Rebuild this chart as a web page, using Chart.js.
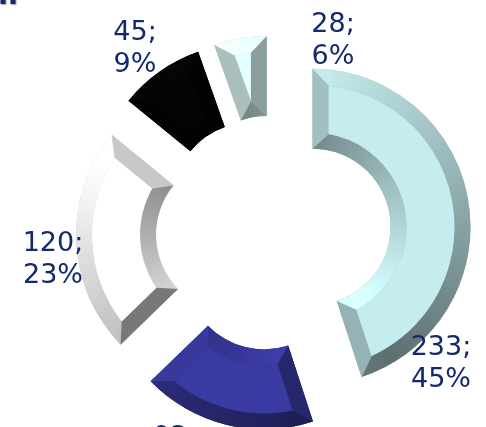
<!DOCTYPE html>
<html>
<head>
<meta charset="utf-8">
<style>
  html, body { margin: 0; padding: 0; background: #fff; overflow: hidden; }
  #wrap { position: relative; width: 486px; height: 427px; overflow: hidden; }
</style>
<script src="https://cdn.jsdelivr.net/npm/chart.js@4/dist/chart.umd.min.js"></script>
</head>
<body>
<div id="wrap"><canvas id="chart" width="486" height="427"></canvas></div>
<script>
// ── Data ──────────────────────────────────────────────────────────────────────

const values = [233, 92, 120, 45, 28];
const percents = [45, 18, 23, 9, 6];
const faceColors = ['#c5ecee', '#3a3aa3', '#ffffff', '#050505', '#e4ffff'];

// ── Look ──────────────────────────────────────────────────────────────────────

const EXPLODE = 39.5;
const BEVEL = 16;
const LIGHT = 330; // degrees clockwise from top
const labelSpots = [[441, 355], [175, 445], [53, 251], [135, 40], [333, 32]];

function shade(hex, m) {
  const n = parseInt(hex.slice(1), 16);
  const c = [n >> 16, (n >> 8) & 255, n & 255].map(v => Math.min(255, Math.round(v * m)));
  return 'rgb(' + c.join(',') + ')';
}

// brightness of a surface whose normal points at deg (clockwise from top)
function lit(deg) {
  let d = Math.abs(((deg - LIGHT) % 360 + 360) % 360);
  if (d > 180) d = 360 - d;
  return 1.12 - d / 180 * 0.65;
}

function pt(cx, cy, r, a) {
  return [cx + Math.cos(a) * r, cy + Math.sin(a) * r];
}

// canvas angle to clockwise-from-top degrees
function toDeg(a) {
  return (a + Math.PI / 2) * 180 / Math.PI;
}

function curvedBand(ctx, cx, cy, r1, a1, b1, r2, a2, b2, base, inward) {
  const g = ctx.createConicGradient(-Math.PI / 2, cx, cy);
  for (let i = 0; i <= 36; i++) {
    const deg = i * 10;
    g.addColorStop(i / 36, shade(base, lit(deg + (inward ? 180 : 0))));
  }
  ctx.beginPath();
  ctx.arc(cx, cy, r1, a1, b1);
  ctx.arc(cx, cy, r2, b2, a2, true);
  ctx.closePath();
  ctx.fillStyle = g;
  ctx.fill();
}

function polygon(ctx, pts, color) {
  ctx.beginPath();
  pts.forEach((p, i) => (i ? ctx.lineTo(p[0], p[1]) : ctx.moveTo(p[0], p[1])));
  ctx.closePath();
  ctx.fillStyle = color;
  ctx.fill();
}

function drawSlice(ctx, arc, base) {
  const a = arc.startAngle, b = arc.endAngle, mid = (a + b) / 2;
  const cx = arc.x + Math.cos(mid) * EXPLODE;
  const cy = arc.y + Math.sin(mid) * EXPLODE;
  const R = arc.outerRadius, r = arc.innerRadius;
  const R2 = R - BEVEL;
  let r2 = r + BEVEL;
  const dO = Math.asin(BEVEL / R2);
  const half = (b - a) / 2;
  // narrow slices: the two end bevels meet before reaching the inner band
  r2 = Math.max(r2, BEVEL / Math.sin(half));
  const dI = Math.min(Math.asin(BEVEL / r2), half);
  const fa = [a + dO, a + dI], fb = [b - dO, b - dI];

  // silhouette underneath so the joins between bands do not show white
  ctx.beginPath();
  ctx.arc(cx, cy, R, a, b);
  ctx.arc(cx, cy, r, b, a, true);
  ctx.closePath();
  ctx.fillStyle = shade(base, 0.8);
  ctx.fill();

  curvedBand(ctx, cx, cy, R, a, b, R2, fa[0], fb[0], base, false);
  curvedBand(ctx, cx, cy, r, a, b, r2, fa[1], fb[1], base, true);

  const startCol = shade(base, lit(toDeg(a) - 90) * 0.9);
  const endCol = shade(base, lit(toDeg(b) + 90) * 0.9);
  polygon(ctx, [pt(cx, cy, r, a), pt(cx, cy, R, a), pt(cx, cy, R2, fa[0]), pt(cx, cy, r2, fa[1])], startCol);
  polygon(ctx, [pt(cx, cy, r, b), pt(cx, cy, R, b), pt(cx, cy, R2, fb[0]), pt(cx, cy, r2, fb[1])], endCol);

  ctx.beginPath();
  ctx.arc(cx, cy, R2, fa[0], fb[0]);
  ctx.arc(cx, cy, r2, fb[1], fa[1], true);
  ctx.closePath();
  ctx.fillStyle = base;
  ctx.fill();
}

// ── Chart ─────────────────────────────────────────────────────────────────────

const bevelSlices = {
  id: 'bevelSlices',
  beforeDatasetDraw(chart, args) {
    const ctx = chart.ctx;
    args.meta.data.forEach((arc, i) => drawSlice(ctx, arc, faceColors[i]));
    return false;
  },
  afterDraw(chart) {
    const ctx = chart.ctx;
    ctx.save();
    ctx.fillStyle = '#14296b';
    ctx.textBaseline = 'alphabetic';
    // bottom of the cut-off title in the corner
    ctx.font = 'bold 29px "DejaVu Sans", sans-serif';
    ctx.textAlign = 'left';
    ctx.shadowColor = 'rgba(0,0,0,0.35)';
    ctx.shadowOffsetX = 1;
    ctx.shadowOffsetY = 1;
    ctx.shadowBlur = 1;
    ctx.fillText('ll', -2, 4);
    ctx.shadowColor = 'transparent';
    ctx.font = '27px "DejaVu Sans", sans-serif';
    ctx.textAlign = 'center';
    values.forEach((v, i) => {
      const [x, y] = labelSpots[i];
      ctx.fillText(v + ';', x, y);
      ctx.fillText(percents[i] + '%', x, y + 32);
    });
    ctx.restore();
  },
};

new Chart(document.getElementById('chart'), {
  type: 'doughnut',
  data: {
    labels: values.map(String),
    datasets: [{ data: values, backgroundColor: faceColors, borderWidth: 0 }],
  },
  options: {
    responsive: false,
    animation: false,
    radius: 158,
    cutout: '49.4%',
    layout: { padding: { left: 61, top: 39 } },
    plugins: { legend: { display: false }, tooltip: { enabled: false } },
  },
  plugins: [bevelSlices],
});
</script>
</body>
</html>
